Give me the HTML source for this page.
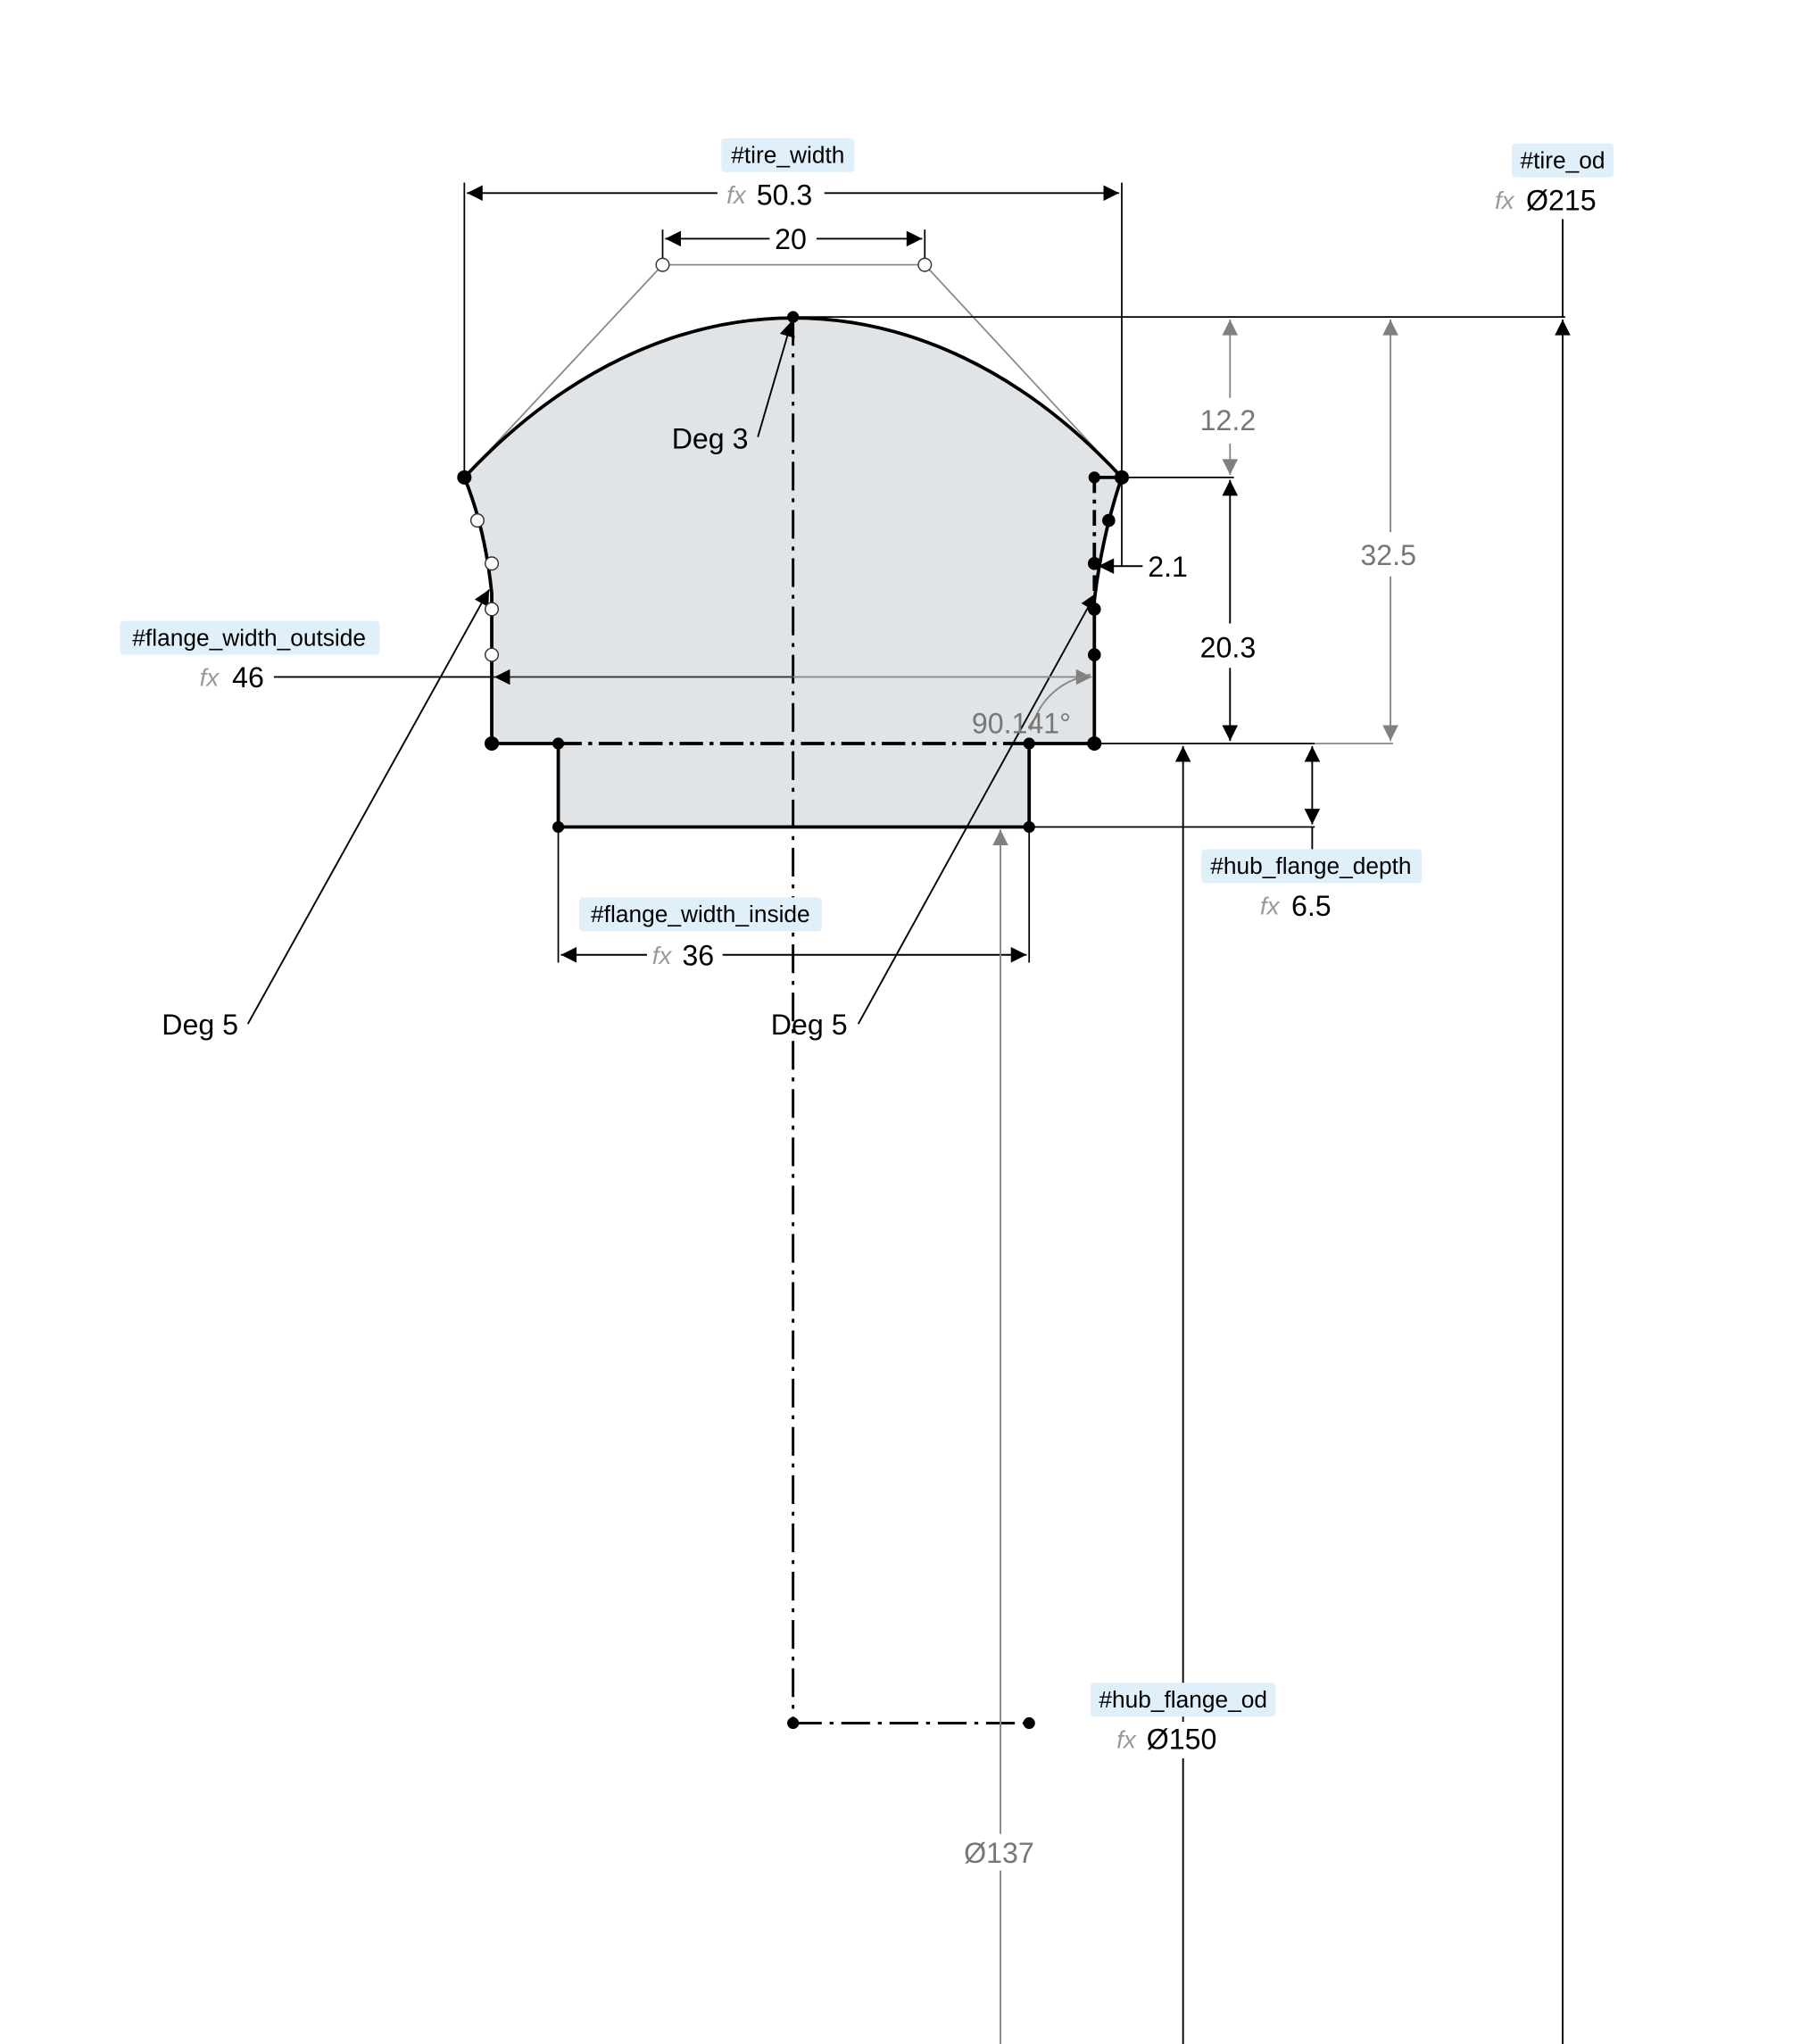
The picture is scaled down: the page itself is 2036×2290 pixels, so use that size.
<!DOCTYPE html>
<html><head><meta charset="utf-8"><style>
html,body{margin:0;padding:0;background:#fff;width:2036px;height:2290px;overflow:hidden}
svg{display:block}
text{font-family:"Liberation Sans","DejaVu Sans",sans-serif}
</style></head><body>
<svg width="2036" height="2290" viewBox="0 0 1393 1567" preserveAspectRatio="none" xmlns="http://www.w3.org/2000/svg">
<defs>
<marker id="a" viewBox="0 0 10 10" refX="10" refY="5" markerWidth="22" markerHeight="12" markerUnits="userSpaceOnUse" orient="auto-start-reverse"><path d="M0,0 L10,5 L0,10 z" fill="#000"/></marker>
<marker id="g" viewBox="0 0 10 10" refX="10" refY="5" markerWidth="22" markerHeight="12" markerUnits="userSpaceOnUse" orient="auto-start-reverse"><path d="M0,0 L10,5 L0,10 z" fill="#808080"/></marker>
</defs>
<path d="M356,366 C508,203 709,203 860,366 Q845,410 839,460 L839,570 L789,570 L789,634 L428,634 L428,570 L377,570 L377,455 Q372,405 356,366 Z" fill="#e1e4e7"/>
<polyline points="356,366 508,203 709,203 860,366" fill="none" stroke="#888" stroke-width="1.2"/>
<path d="M356,366 C508,203 709,203 860,366" fill="none" stroke="#000" stroke-width="2.6"/>
<path d="M356,366 Q372,405 377,455 L377,570 L428,570 M789,570 L839,570 L839,460 Q845,410 860,366" fill="none" stroke="#000" stroke-width="2.6"/>
<path d="M428,570 L428,634 L789,634 L789,570" fill="none" stroke="#000" stroke-width="2.6"/>
<line x1="428" y1="570" x2="789" y2="570" stroke="#000" stroke-width="2.6" stroke-dasharray="18,5,3,5"/>
<line x1="839" y1="366" x2="860" y2="366" stroke="#000" stroke-width="2.6"/>
<line x1="839" y1="366" x2="839" y2="460" stroke="#000" stroke-width="2.6" stroke-dasharray="12,5,3,5"/>
<line x1="608" y1="243" x2="608" y2="1321" stroke="#000" stroke-width="2" stroke-dasharray="22,6,3,6"/>
<line x1="608" y1="1321" x2="789" y2="1321" stroke="#000" stroke-width="2" stroke-dasharray="22,6,3,6"/>
<g stroke="#000" stroke-width="1.2" fill="none">
<line x1="356" y1="140" x2="356" y2="366"/>
<line x1="860" y1="140" x2="860" y2="366"/>
<line x1="508" y1="176" x2="508" y2="203"/>
<line x1="709" y1="176" x2="709" y2="203"/>
<line x1="608" y1="243" x2="1200" y2="243"/>
<line x1="860" y1="366" x2="946" y2="366"/>
<line x1="839" y1="570" x2="1008" y2="570"/>
<line x1="789" y1="634" x2="1008" y2="634"/>
<line x1="428" y1="634" x2="428" y2="738"/>
<line x1="789" y1="634" x2="789" y2="738"/>
<line x1="860" y1="366" x2="860" y2="434"/>
</g>
<line x1="1008" y1="570" x2="1068" y2="570" stroke="#888" stroke-width="1.2"/>
<g stroke="#000" stroke-width="1.3" fill="none">
<line x1="358" y1="148" x2="550" y2="148" marker-start="url(#a)"/>
<line x1="632" y1="148" x2="858" y2="148" marker-end="url(#a)"/>
<line x1="510" y1="183" x2="590" y2="183" marker-start="url(#a)"/>
<line x1="626" y1="183" x2="707" y2="183" marker-end="url(#a)"/>
<line x1="1198" y1="1567" x2="1198" y2="245" marker-end="url(#a)"/>
<line x1="1198" y1="168" x2="1198" y2="243"/>
<line x1="943" y1="368" x2="943" y2="478" marker-start="url(#a)"/>
<line x1="943" y1="512" x2="943" y2="568" marker-end="url(#a)"/>
<line x1="1006" y1="572" x2="1006" y2="632" marker-start="url(#a)" marker-end="url(#a)"/>
<line x1="1006" y1="634" x2="1006" y2="652"/>
<line x1="907" y1="1567" x2="907" y2="572" marker-end="url(#a)"/>
<line x1="210" y1="519" x2="379" y2="519"/>
<line x1="430" y1="732" x2="496" y2="732" marker-start="url(#a)"/>
<line x1="554" y1="732" x2="787" y2="732" marker-end="url(#a)"/>
<line x1="876" y1="434" x2="842" y2="434" marker-end="url(#a)"/>
<line x1="190" y1="785" x2="375" y2="452" marker-end="url(#a)"/>
<line x1="658" y1="785" x2="840" y2="455" marker-end="url(#a)"/>
<line x1="581" y1="335" x2="607" y2="246" marker-end="url(#a)"/>
</g>
<line x1="608" y1="519" x2="379" y2="519" stroke="#333" stroke-width="1.3" marker-end="url(#a)"/>
<g stroke="#888" stroke-width="1.3" fill="none">
<line x1="943" y1="245" x2="943" y2="305" marker-start="url(#g)"/>
<line x1="943" y1="340" x2="943" y2="364" marker-end="url(#g)"/>
<line x1="1066" y1="245" x2="1066" y2="408" marker-start="url(#g)"/>
<line x1="1066" y1="442" x2="1066" y2="568" marker-end="url(#g)"/>
<line x1="767" y1="1567" x2="767" y2="636" marker-end="url(#g)"/>
<line x1="608" y1="519" x2="837" y2="519" marker-end="url(#g)"/>
<path d="M790,560 Q800,525 836,517"/>
</g>
<g fill="#000" stroke="#000">
<circle cx="608" cy="243" r="4"/>
<circle cx="356" cy="366" r="5"/><circle cx="860" cy="366" r="5"/>
<circle cx="839" cy="366" r="4"/>
<circle cx="850" cy="399" r="4.5"/><circle cx="839" cy="432" r="4.5"/><circle cx="839" cy="467" r="4.5"/><circle cx="839" cy="502" r="4.5"/>
<circle cx="377" cy="570" r="5"/><circle cx="839" cy="570" r="5"/>
<circle cx="428" cy="570" r="4"/><circle cx="789" cy="570" r="4"/>
<circle cx="428" cy="634" r="4"/><circle cx="789" cy="634" r="4"/>
<circle cx="608" cy="1321" r="4"/><circle cx="789" cy="1321" r="4"/>
</g>
<g fill="#fff" stroke="#333" stroke-width="1">
<circle cx="508" cy="203" r="5"/><circle cx="709" cy="203" r="5"/>
<circle cx="366" cy="399" r="5"/><circle cx="377" cy="432" r="5"/><circle cx="377" cy="467" r="5"/><circle cx="377" cy="502" r="5"/>
</g>
<g fill="#fff">
<rect x="876" y="1320" width="62" height="28"/>
<rect x="737" y="1406" width="60" height="28"/>
</g>
<g fill="#dff0fa">
<rect x="553" y="106" width="102" height="26" rx="3"/>
<rect x="1159" y="110" width="78" height="26" rx="3"/>
<rect x="92" y="476" width="199" height="26" rx="3"/>
<rect x="444" y="688" width="186" height="26" rx="3"/>
<rect x="921" y="651" width="169" height="26" rx="3"/>
<rect x="836" y="1290" width="142" height="26" rx="3"/>
</g>
<g font-size="18" fill="#000" text-anchor="middle">
<text x="604" y="125">#tire_width</text>
<text x="1198" y="129">#tire_od</text>
<text x="191" y="495">#flange_width_outside</text>
<text x="537" y="707">#flange_width_inside</text>
<text x="1005" y="670">#hub_flange_depth</text>
<text x="907" y="1309">#hub_flange_od</text>
</g>
<g font-size="22" fill="#000">
<text x="580" y="157">50.3</text>
<text x="594" y="191">20</text>
<text x="1170" y="161">Ø215</text>
<text x="178" y="527">46</text>
<text x="523" y="740">36</text>
<text x="990" y="702">6.5</text>
<text x="879" y="1341">Ø150</text>
<text x="920" y="504">20.3</text>
<text x="880" y="442">2.1</text>
<text x="515" y="344">Deg 3</text>
<text x="124" y="793">Deg 5</text>
<text x="591" y="793">Deg 5</text>
</g>
<g font-size="22" fill="#777">
<text x="920" y="330">12.2</text>
<text x="1043" y="433">32.5</text>
<text x="739" y="1428">Ø137</text>
<text x="745" y="562">90.141°</text>
</g>
<g font-size="19" fill="#999" font-style="italic" font-family="Liberation Serif,serif">
<text x="557" y="156">fx</text>
<text x="1146" y="160">fx</text>
<text x="153" y="526">fx</text>
<text x="500" y="739">fx</text>
<text x="966" y="701">fx</text>
<text x="856" y="1340">fx</text>
</g>
</svg>
</body></html>
